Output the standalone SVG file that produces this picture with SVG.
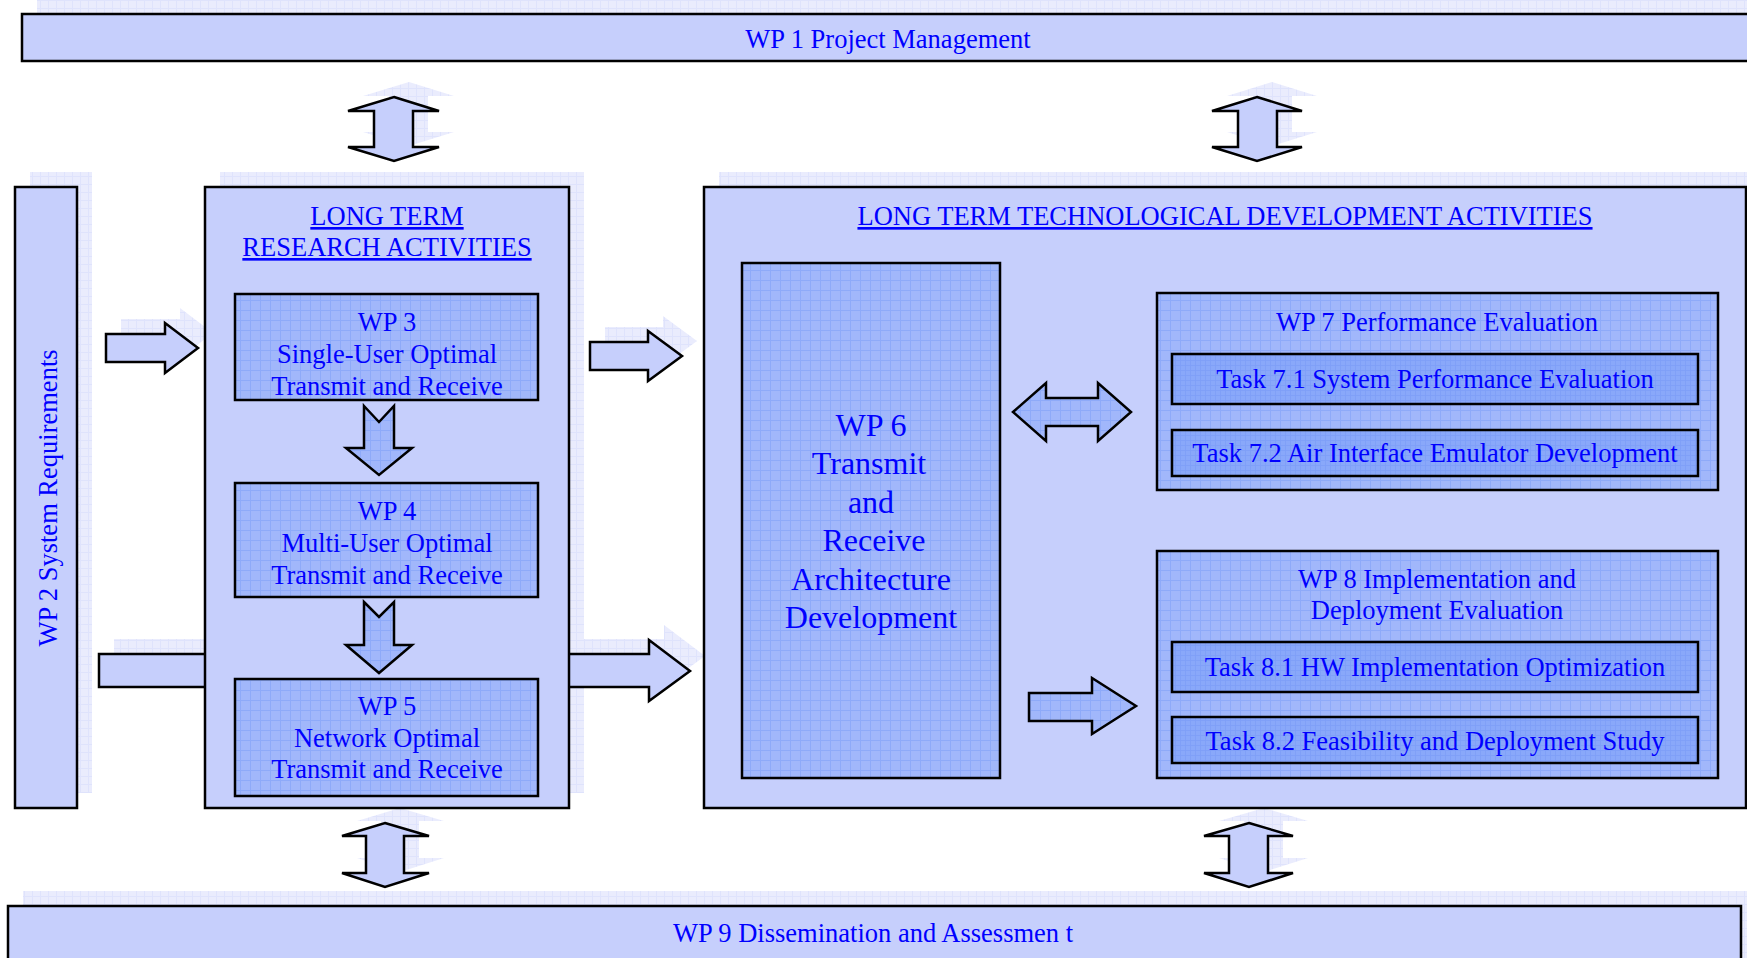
<svg xmlns="http://www.w3.org/2000/svg" width="1747" height="958" viewBox="0 0 1747 958">
<defs>
<pattern id="shadowPat" width="8" height="8" patternUnits="userSpaceOnUse">
<rect width="8" height="8" fill="#eaecfd"/>
<path d="M0 0.5H8M0.5 0V8" stroke="#dfe3fc" stroke-width="1"/>
</pattern>
<pattern id="midPat" width="10" height="10" patternUnits="userSpaceOnUse">
<rect width="10" height="10" fill="#a1b7fb"/>
<path d="M0 0.5H10M0.5 0V10" stroke="#8eaaf9" stroke-width="1"/>
</pattern>
<pattern id="taskPat" width="5" height="5" patternUnits="userSpaceOnUse">
<rect width="5" height="5" fill="#89a8fa"/>
<path d="M0 0.5H5M0.5 0V5" stroke="#7d9ef8" stroke-width="0.8"/>
</pattern>
<style>
.shadow{fill:url(#shadowPat);stroke:none}
.box{fill:#c6cffc;stroke:#000;stroke-width:2.5}
.mid{fill:url(#midPat);stroke:#000;stroke-width:2.5}
.task{fill:url(#taskPat);stroke:#000;stroke-width:2.5}
.arr{fill:#c6cffc;stroke:#000;stroke-width:2.5;stroke-linejoin:miter}
.arrM{fill:url(#midPat);stroke:#000;stroke-width:2.5;stroke-linejoin:miter}
text{font-family:"Liberation Serif","Times New Roman",serif;font-size:26.5px;fill:#0000ff;text-anchor:middle}
.big{font-size:32px}
.u{text-decoration:underline}
</style>
</defs>
<rect width="1747" height="958" fill="#fff"/>

<!-- shadows -->
<g id="shadows">
<rect class="shadow" x="37" y="-1" width="1740" height="47"/>
<rect class="shadow" x="30" y="172" width="62" height="621"/>
<rect class="shadow" x="220" y="172" width="364" height="621"/>
<rect class="shadow" x="719" y="172" width="1060" height="621"/>
<rect class="shadow" x="23" y="891" width="1733" height="80"/>
<polygon class="shadow" points="409,82 454,96 428,96 428,132 454,132 409,146 363,132 389,132 389,96 363,96"/>
<polygon class="shadow" points="1272,82 1317,96 1292,96 1292,132 1317,132 1272,146 1227,132 1253,132 1253,96 1227,96"/>
<polygon class="shadow" points="400,808 444,821 419,821 419,858 444,858 400,872 357,858 381,858 381,821 357,821"/>
<polygon class="shadow" points="1264,808 1308,821 1283,821 1283,858 1308,858 1264,872 1219,858 1244,858 1244,821 1219,821"/>
<polygon class="shadow" points="121,319 180,319 180,308 213,333 180,358 180,347 121,347"/>
<polygon class="shadow" points="605,327 663,327 663,316 697,341 663,366 663,355 605,355"/>
<polygon class="shadow" points="114,639 664,639 664,625 705,656 664,686 664,672 114,672"/>
</g>

<!-- connectors -->
<g id="connectors">
<polygon class="arr" points="394,97 439,111 413,111 413,147 439,147 394,161 348,147 374,147 374,111 348,111"/>
<polygon class="arr" points="1257,97 1302,111 1277,111 1277,147 1302,147 1257,161 1212,147 1238,147 1238,111 1212,111"/>
<polygon class="arr" points="385,823 429,836 404,836 404,873 429,873 385,887 342,873 366,873 366,836 342,836"/>
<polygon class="arr" points="1249,823 1293,836 1268,836 1268,873 1293,873 1249,887 1204,873 1229,873 1229,836 1204,836"/>
<polygon class="arr" points="106,334 165,334 165,323 198,348 165,373 165,362 106,362"/>
<polygon class="arr" points="99,654 649,654 649,640 690,671 649,701 649,687 99,687"/>
<polygon class="arr" points="590,342 648,342 648,331 682,356 648,381 648,370 590,370"/>
</g>

<g id="wp1">
<rect class="box" x="22" y="14" width="1740" height="47"/>
<text x="888" y="48">WP 1 Project Management</text>
</g>

<g id="wp2">
<rect class="box" x="15" y="187" width="62" height="621"/>
<text transform="translate(57,498) rotate(-90)">WP 2 System Requirements</text>
</g>

<g id="ltr">
<rect class="box" x="205" y="187" width="364" height="621"/>
<text class="u" x="387" y="225">LONG TERM</text>
<text class="u" x="387" y="256">RESEARCH ACTIVITIES</text>
</g>

<g id="ltr-arrows">
<polygon class="arrM" points="364,406 379,422 394,406 394,448 412,448 379,475 346,448 364,448"/>
<polygon class="arrM" points="364,602 379,617 394,602 394,645 412,645 379,673 346,645 364,645"/>
</g>

<g id="wp3">
<rect class="mid" x="235" y="294" width="303" height="106"/>
<text x="387" y="331">WP 3</text>
<text x="387" y="363">Single-User Optimal</text>
<text x="387" y="395">Transmit and Receive</text>
</g>

<g id="wp4">
<rect class="mid" x="235" y="483" width="303" height="114"/>
<text x="387" y="520">WP 4</text>
<text x="387" y="552">Multi-User Optimal</text>
<text x="387" y="584">Transmit and Receive</text>
</g>

<g id="wp5">
<rect class="mid" x="235" y="679" width="303" height="117"/>
<text x="387" y="715">WP 5</text>
<text x="387" y="747">Network Optimal</text>
<text x="387" y="778">Transmit and Receive</text>
</g>

<g id="lttd">
<rect class="box" x="704" y="187" width="1042" height="621"/>
<text class="u" x="1225" y="225">LONG TERM TECHNOLOGICAL DEVELOPMENT ACTIVITIES</text>
</g>

<g id="wp6">
<rect class="mid" x="742" y="263" width="258" height="515"/>
<text class="big" x="871" y="436">WP 6</text>
<text class="big" x="869" y="474">Transmit</text>
<text class="big" x="871" y="513">and</text>
<text class="big" x="874" y="551">Receive</text>
<text class="big" x="871" y="590">Architecture</text>
<text class="big" x="871" y="628">Development</text>
</g>

<g id="lttd-arrows">
<polygon class="arrM" points="1013,412 1046,383 1046,398 1098,398 1098,383 1131,412 1098,441 1098,426 1046,426 1046,441"/>
<polygon class="arrM" points="1029,693 1092,693 1092,678 1136,706 1092,734 1092,721 1029,721"/>
</g>

<g id="wp7">
<rect class="mid" x="1157" y="293" width="561" height="197"/>
<text x="1437" y="331">WP 7 Performance Evaluation</text>
</g>
<g id="task71">
<rect class="task" x="1172" y="354" width="526" height="50"/>
<text x="1435" y="388">Task 7.1 System Performance Evaluation</text>
</g>
<g id="task72">
<rect class="task" x="1172" y="430" width="526" height="46"/>
<text x="1435" y="462">Task 7.2 Air Interface Emulator Development</text>
</g>

<g id="wp8">
<rect class="mid" x="1157" y="551" width="561" height="227"/>
<text x="1437" y="588">WP 8 Implementation and</text>
<text x="1437" y="619">Deployment Evaluation</text>
</g>
<g id="task81">
<rect class="task" x="1172" y="642" width="526" height="50"/>
<text x="1435" y="676">Task 8.1 HW Implementation Optimization</text>
</g>
<g id="task82">
<rect class="task" x="1172" y="717" width="526" height="46"/>
<text x="1435" y="750">Task 8.2 Feasibility and Deployment Study</text>
</g>

<g id="wp9">
<rect class="box" x="8" y="906" width="1733" height="70"/>
<text x="873" y="942">WP 9 Dissemination and Assessmen t</text>
</g>
</svg>
